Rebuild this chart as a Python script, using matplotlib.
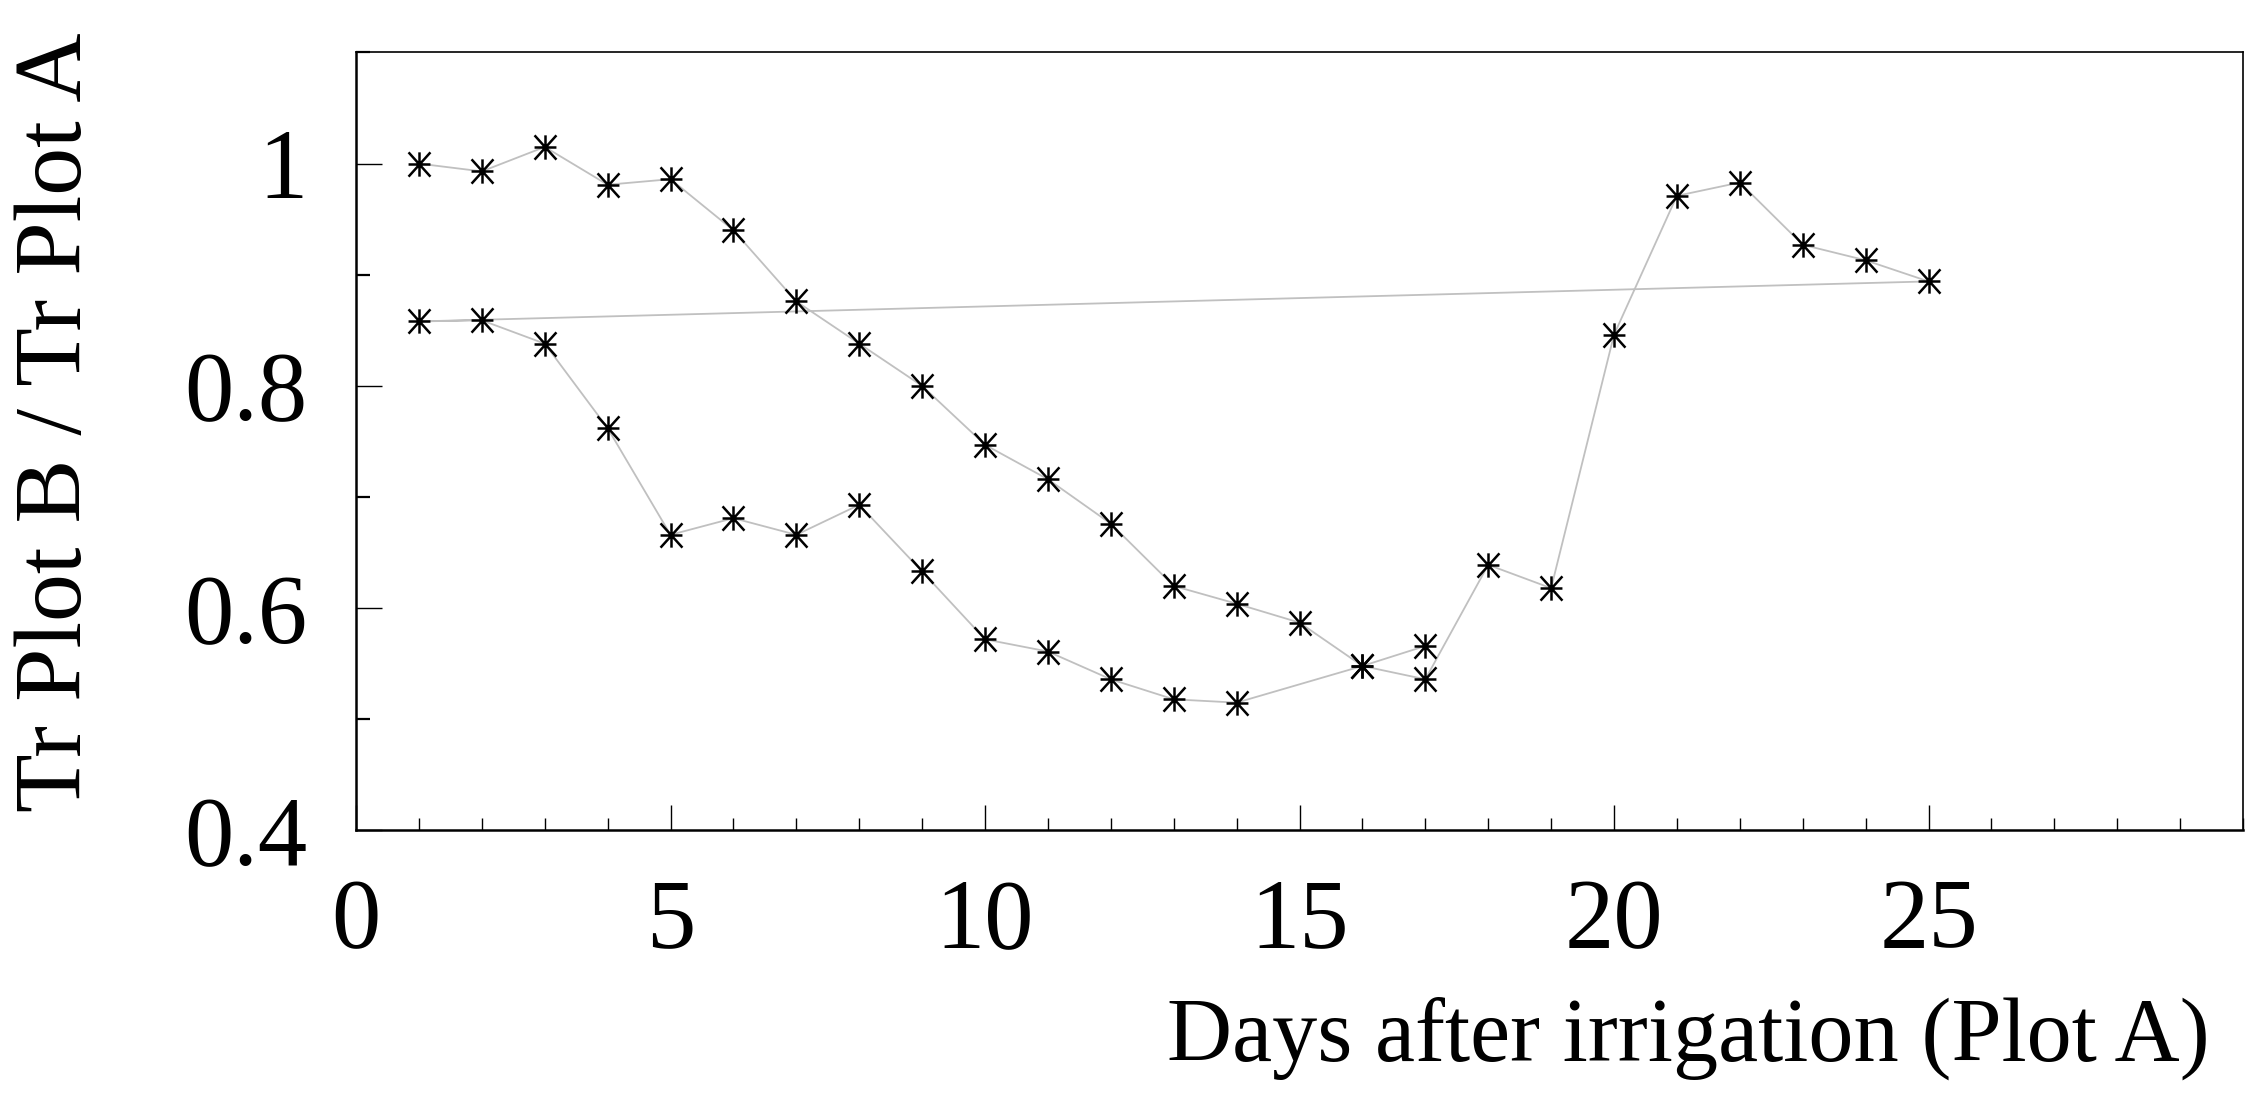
import matplotlib
matplotlib.use("Agg")
import matplotlib.pyplot as plt
from matplotlib.path import Path
from matplotlib.ticker import MultipleLocator

plt.rcParams['font.family'] = ['Liberation Serif', 'DejaVu Serif']

# one continuous record, in the order the points are joined
days = [1, 2, 3, 4, 5, 6, 7, 8, 9, 10, 11, 12, 13, 14, 15, 16, 17,
        18, 19, 20, 21, 22, 23, 24, 25,
        1, 2, 3, 4, 5, 6, 7, 8, 9, 10, 11, 12, 13, 14, 16, 17]
ratio = [1.000, 0.993, 1.015, 0.981, 0.986, 0.940, 0.876, 0.838, 0.800,
         0.747, 0.716, 0.676, 0.620, 0.604, 0.587, 0.548, 0.536,
         0.639, 0.618, 0.846, 0.971, 0.983, 0.927, 0.913, 0.894,
         0.858, 0.859, 0.838, 0.762, 0.666, 0.681, 0.666, 0.693, 0.633,
         0.572, 0.561, 0.536, 0.518, 0.515, 0.548, 0.566]

# gnuplot style asterisk
star = Path([(0, -1), (0, 1), (-0.9, -1), (0.9, 1), (-0.9, 1), (0.9, -1),
             (-0.9, 0), (0.9, 0)],
            [Path.MOVETO, Path.LINETO] * 4)

fig = plt.figure(figsize=(22.62, 10.93), dpi=100)
ax = fig.add_axes([0.1574, 0.2402, 0.9916 - 0.1574, 0.952 - 0.2402])

ax.plot(days, ratio, color='#c0c0c0', lw=1.3, zorder=1)
ax.plot(days, ratio, ls='none', marker=star, ms=17.5, mec='black',
        mew=1.8, zorder=2)

ax.set_xlim(0, 30)
ax.set_ylim(0.4, 1.1)
ax.set_xticks([0, 5, 10, 15, 20, 25])
ax.xaxis.set_minor_locator(MultipleLocator(1))
ax.set_yticks([0.4, 0.6, 0.8, 1.0])
ax.set_yticklabels(['0.4', '0.6', '0.8', '1'])
ax.yaxis.set_minor_locator(MultipleLocator(0.1))

ax.tick_params(which='both', direction='in', top=False, right=False,
               labelsize=71)
ax.tick_params(axis='y', which='major', length=19, width=1.0, pad=35)
ax.tick_params(axis='y', which='minor', length=10, width=1.6)
ax.tick_params(axis='x', which='major', length=18, width=1.0, pad=34)
ax.tick_params(axis='x', which='minor', length=9, width=1.0)

ax.spines['left'].set_linewidth(1.8)
ax.spines['bottom'].set_linewidth(1.8)
ax.spines['top'].set_linewidth(1.2)
ax.spines['right'].set_linewidth(1.2)

ax.set_ylabel('Tr Plot B / Tr Plot A', fontsize=69, va='center')
ax.yaxis.set_label_coords(-0.158, 0.525)
ax.set_xlabel('Days after irrigation (Plot A)', fontsize=65,
              ha='right', va='baseline')
ax.xaxis.set_label_coords(0.9825, -0.296)

fig.savefig('out.png', dpi=100)
